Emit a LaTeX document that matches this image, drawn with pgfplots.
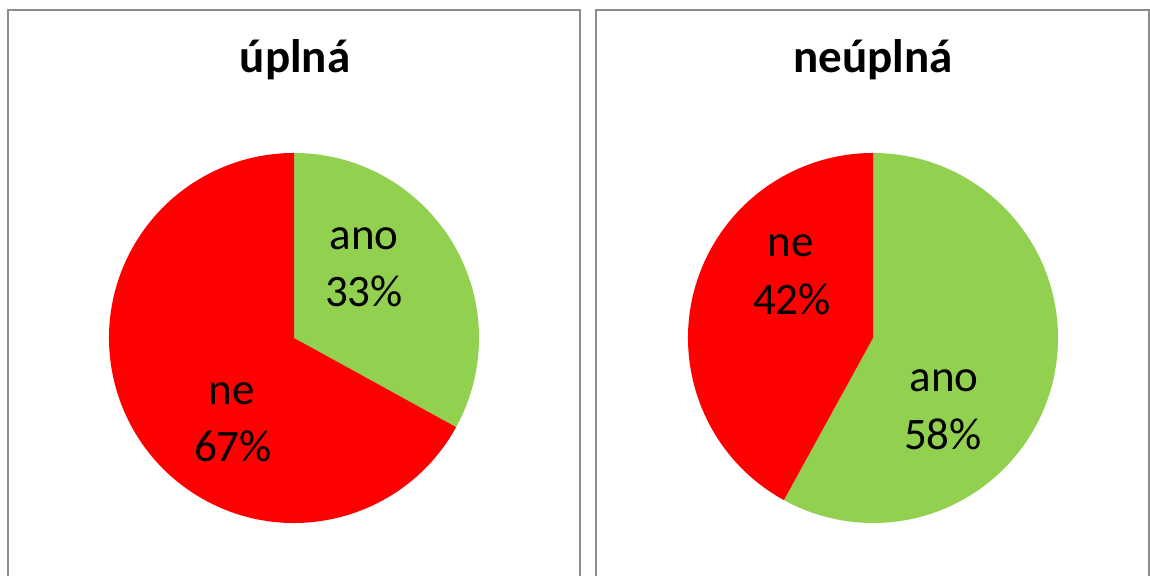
\documentclass[border=0pt]{standalone}
\usepackage{pgfplots}
\pgfplotsset{compat=1.18}
\usepackage{pgfplotstable}
\usepackage{fontspec}
\setmainfont{Carlito}
\definecolor{pgreen}{HTML}{92D050}
\definecolor{pred}{HTML}{FF0000}
\definecolor{boxgrey}{HTML}{8C8C8C}

% shares in percent
\pgfplotstableread{
label share
ano 33
ne 67
}\tableUplna
\pgfplotstableread{
label share
ano 58
ne 42
}\tableNeuplna

\begin{document}
\begin{tikzpicture}[x=0.5pt,y=0.5pt]
\useasboundingbox (0,0) rectangle (1150,576);
\clip (0,0) rectangle (1150,576);
% boxes
\draw[boxgrey, line width=1.1pt] (8,-30) -- (8,566) -- (580,566) -- (580,-30);
\draw[boxgrey, line width=1.1pt] (596,-30) -- (596,566) -- (1149,566) -- (1149,-30);

\pgfplotstablegetelem{0}{share}\of\tableUplna
\pgfmathsetmacro\endA{90-3.6*\pgfplotsretval}
\pgfplotstablegetelem{0}{share}\of\tableNeuplna
\pgfmathsetmacro\endB{90-3.6*\pgfplotsretval}

% left pie
\begin{axis}[at={(147pt,119pt)}, anchor=center, width=185pt, height=185pt,
  scale only axis, xmin=-1, xmax=1, ymin=-1, ymax=1, hide axis, clip=false]
  \fill[pgreen] (axis cs:0,0) -- (axis cs:0,1) arc[start angle=90, end angle=\endA, radius=92.5pt] -- cycle;
  \fill[pred] (axis cs:0,0) -- (axis cs:{cos(\endA)},{sin(\endA)}) arc[start angle=\endA, end angle=-270, radius=92.5pt] -- cycle;
\end{axis}

% right pie
\begin{axis}[at={(436.5pt,119pt)}, anchor=center, width=185pt, height=185pt,
  scale only axis, xmin=-1, xmax=1, ymin=-1, ymax=1, hide axis, clip=false]
  \fill[pgreen] (axis cs:0,0) -- (axis cs:0,1) arc[start angle=90, end angle=\endB, radius=92.5pt] -- cycle;
  \fill[pred] (axis cs:0,0) -- (axis cs:{cos(\endB)},{sin(\endB)}) arc[start angle=\endB, end angle=-270, radius=92.5pt] -- cycle;
\end{axis}

% titles
\node[anchor=base, font=\fontsize{23.5pt}{28pt}\selectfont\bfseries] at (295,503) {úplná};
\node[anchor=base, font=\fontsize{23.5pt}{28pt}\selectfont\bfseries] at (873,503) {neúplná};

% labels
\tikzset{lbl/.style={anchor=base, font=\fontsize{22.5pt}{27pt}\selectfont}}
\node[lbl] at (364,326) {ano};
\node[lbl] at (364,269) {33\%};
\node[lbl] at (232,171) {ne};
\node[lbl] at (233,114) {67\%};
\node[lbl] at (791,319) {ne};
\node[lbl] at (792,261) {42\%};
\node[lbl] at (944,184) {ano};
\node[lbl] at (943,126) {58\%};
\end{tikzpicture}
\end{document}
